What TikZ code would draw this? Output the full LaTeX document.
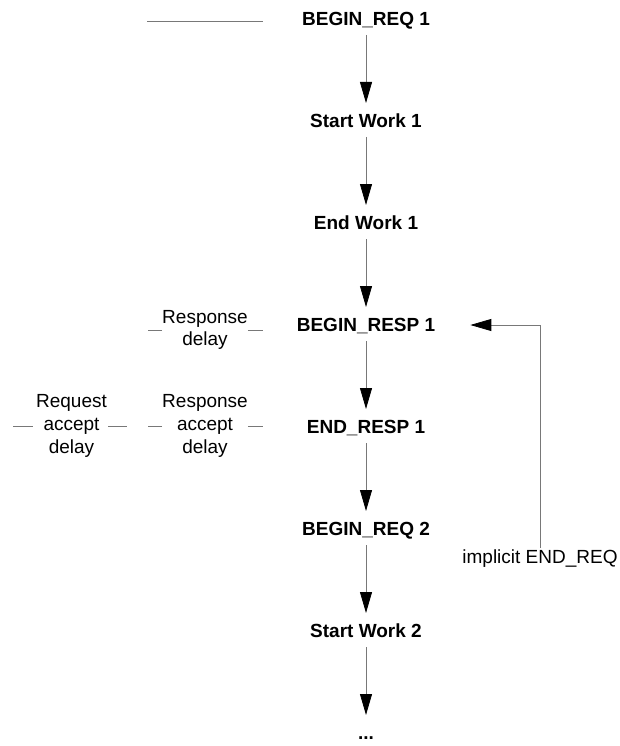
\documentclass[tikz,border=0pt]{standalone}
\usepackage{fontspec}
\setmainfont{Liberation Sans}
\usetikzlibrary{arrows.meta}
\definecolor{linegray}{RGB}{120,120,120}
\tikzset{
  txt/.style={inner sep=0pt, text height=13.6pt, text depth=0pt,
    font=\fontsize{19}{22.8}\selectfont},
  evt/.style={txt, font=\fontsize{19}{22.8}\selectfont\bfseries},
  note/.style={inner sep=0pt, align=center,
    font=\fontsize{19}{22.8}\selectfont},
  flow/.style={draw=linegray, line width=0.8pt,
    -{Triangle[length=21pt,width=12pt,color=black]},
    shorten <=9pt, shorten >=11pt},
  tick/.style={draw=linegray, line width=0.8pt}
}
\begin{document}
\begin{tikzpicture}[x=1pt,y=-1pt]
  \useasboundingbox (0,0) rectangle (619,746);

  % sequence of events
  \node[evt] (breq1)  at (366,19)  {BEGIN\_REQ 1};
  \node[evt] (sw1)    at (366,121) {Start Work 1};
  \node[evt] (ew1)    at (366,223) {End Work 1};
  \node[evt] (bresp1) at (366,325) {BEGIN\_RESP 1};
  \node[evt] (eresp1) at (366,427) {END\_RESP 1};
  \node[evt] (breq2)  at (366,529) {BEGIN\_REQ 2};
  \node[evt] (sw2)    at (366,631) {Start Work 2};
  \node[evt] (more)   at (366,733) {...};

  \draw[flow] (breq1) -- (sw1);
  \draw[flow] (sw1) -- (ew1);
  \draw[flow] (ew1) -- (bresp1);
  \draw[flow] (bresp1) -- (eresp1);
  \draw[flow] (eresp1) -- (breq2);
  \draw[flow] (breq2) -- (sw2);
  \draw[flow] (sw2) -- (more);

  % marker line level with the first request
  \coordinate (m0) at (147,21);
  \coordinate (m1) at (263,21);
  \draw[tick] (m0) -- (m1);

  % delay labels with their side ticks
  \node[note] (rdel) at (205,330) {Response\\delay};
  \draw[tick] (rdel.west) -- ++(-14,0);
  \draw[tick] (rdel.east) -- ++(15,0);

  \node[note] (rqacc) at (71.5,426) {Request\\accept\\delay};
  \draw[tick] ([xshift=-3pt]rqacc.west) -- ++(-20,0);
  \draw[tick] ([xshift=1pt]rqacc.east) -- ++(19,0);

  \node[note] (rsacc) at (205,426) {Response\\accept\\delay};
  \draw[tick] (rsacc.west) -- ++(-14,0);
  \draw[tick] (rsacc.east) -- ++(15,0);

  % implicit end of request feeding back to the response
  \node[txt] (impl) at (540,557) {implicit END\_REQ};
  \draw[draw=linegray, line width=0.8pt,
        -{Triangle[length=21pt,width=12pt,color=black]},
        shorten <=2pt, shorten >=35pt] (impl.north) |- (bresp1);
\end{tikzpicture}
\end{document}
